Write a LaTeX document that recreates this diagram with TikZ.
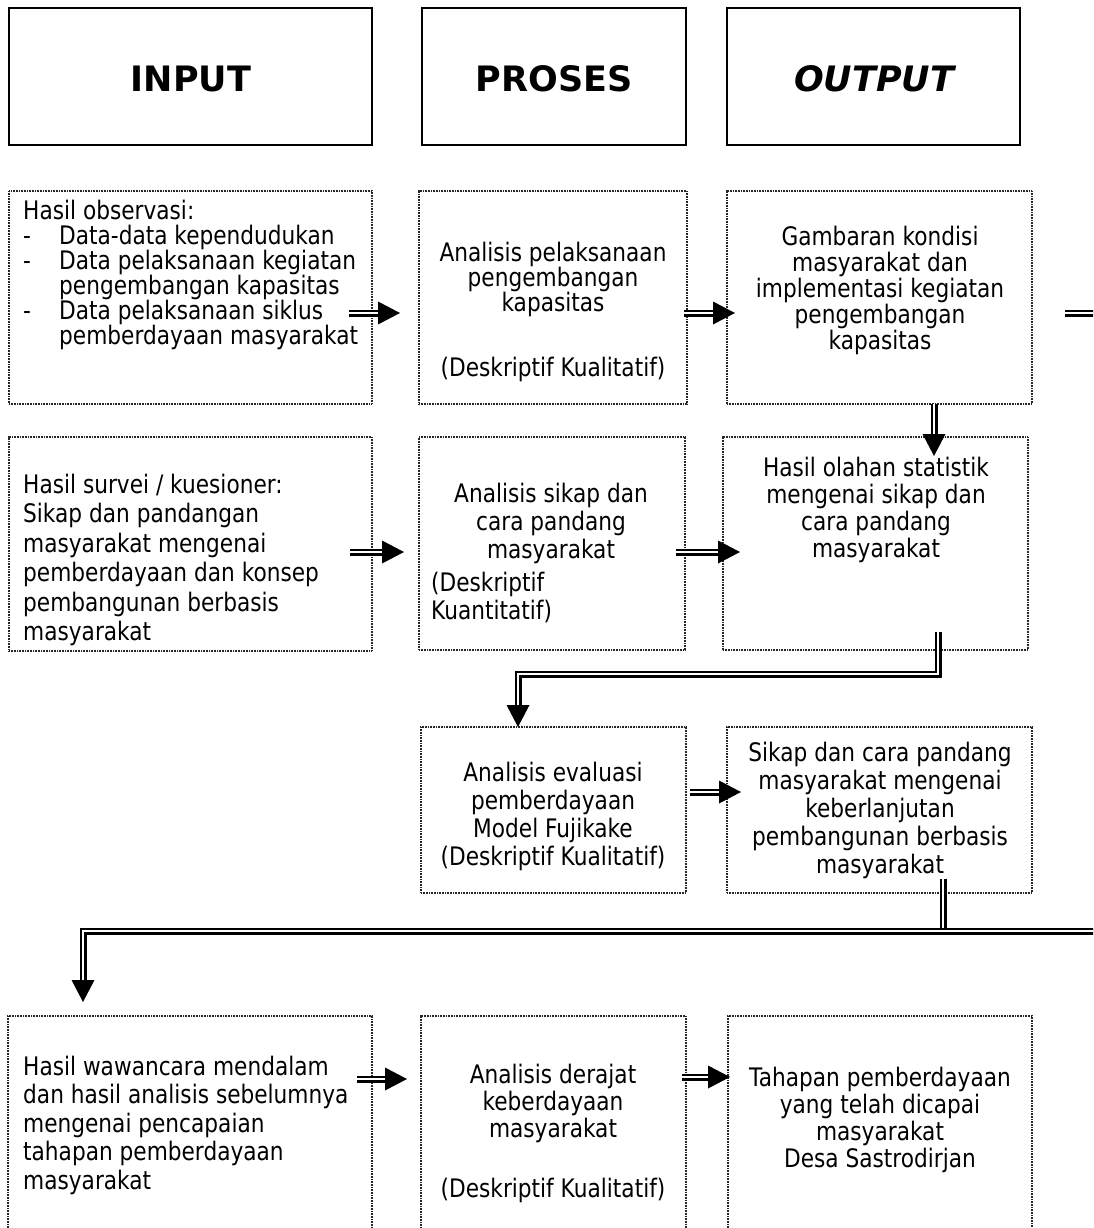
\documentclass[tikz,border=0pt]{standalone}
\usepackage{fontspec}
\setmainfont{DejaVu Sans}[FakeStretch=0.85]
\newfontfamily\hdrfont{DejaVu Sans}
\usetikzlibrary{calc}

% filled triangular head: base point #1, tip #2
\newcommand\dhead[2]{%
  \fill[black] (#2) -- ($(#1)!11.5pt!90:(#2)$) -- ($(#1)!11.5pt!-90:(#2)$) -- cycle;}
% straight double-shaft arrow from #1 to tip #2
\newcommand\dblarrow[2]{%
  \coordinate (#2-base) at ($(#2)!22pt!(#1)$);
  \draw[shaft] (#1) -- ($(#2)!21pt!(#1)$);
  \dhead{#2-base}{#2}}

\begin{document}
\begin{tikzpicture}[x=1pt,y=-1pt,
  hdr/.style={draw=black, line width=1.1pt, inner sep=0pt, outer sep=0pt, anchor=north west},
  dbox/.style={draw=black!85, line width=1.4pt, dash pattern=on 1pt off 0.6pt,
               inner sep=0pt, outer sep=0pt, anchor=north west},
  body/.style={inner sep=0pt, font=\fontsize{25.5}{#1}\selectfont},
  ctr/.style={body=#1, align=center},
  lft/.style={body=#1, align=left, anchor=west},
  htxt/.style={inner sep=0pt, font=\hdrfont\fontsize{35}{40}\selectfont\bfseries},
  shaft/.style={draw=black, line width=2.1pt, double=white, double distance=2.8pt},
]
\useasboundingbox (0,0) rectangle (1093,1228);
\clip (0,0) rectangle (1093,1228);

% column headers
\node[hdr, minimum width=363pt, minimum height=137pt] (hin)  at (9,8)   {};
\node[hdr, minimum width=264pt, minimum height=137pt] (hpr)  at (422,8) {};
\node[hdr, minimum width=293pt, minimum height=137pt] (hout) at (727,8) {};
\node[htxt] (hint)  at (191,79) {INPUT};
\node[htxt] (hprt)  at (554,79) {PROSES};
\node[htxt] (houtt) at (874,79) {\itshape OUTPUT};

% row 1
\node[dbox, minimum width=363pt, minimum height=213pt] (i1) at (9,191)   {};
\node[dbox, minimum width=268pt, minimum height=213pt] (p1) at (419,191) {};
\node[dbox, minimum width=305pt, minimum height=213pt] (o1) at (727,191) {};
\node[lft=25] (i1t) at (23,275) {Hasil observasi:\\
  \makebox[36pt][l]{-}Data-data kependudukan\\
  \makebox[36pt][l]{-}Data pelaksanaan kegiatan\\
  \hspace*{36pt}pengembangan kapasitas\\
  \makebox[36pt][l]{-}Data pelaksanaan siklus\\
  \hspace*{36pt}pemberdayaan masyarakat};
\node[ctr=25] (p1t) at (553,279) {Analisis pelaksanaan\\pengembangan\\kapasitas};
\node[ctr=25] (p1d) at (553,369) {(Deskriptif Kualitatif)};
\node[ctr=26] (o1t) at (880,290) {Gambaran kondisi\\masyarakat dan\\implementasi kegiatan\\pengembangan\\kapasitas};

% row 2
\node[dbox, minimum width=363pt, minimum height=214pt] (i2) at (9,437)   {};
\node[dbox, minimum width=266pt, minimum height=213pt] (p2) at (419,437) {};
\node[dbox, minimum width=305pt, minimum height=213pt] (o2) at (723,437) {};
\node[lft=29.5] (i2t) at (23,560) {Hasil survei / kuesioner:\\Sikap dan pandangan\\masyarakat mengenai\\pemberdayaan dan konsep\\pembangunan berbasis\\masyarakat};
\node[ctr=28] (p2a) at (551,523) {Analisis sikap dan\\cara pandang\\masyarakat};
\node[lft=28] (p2b) at (431,597) {(Deskriptif\\Kuantitatif)};
\node[ctr=27] (o2t) at (876,510) {Hasil olahan statistik\\mengenai sikap dan\\cara pandang\\masyarakat};

% row 3
\node[dbox, minimum width=265pt, minimum height=166pt] (p3) at (421,727) {};
\node[dbox, minimum width=305pt, minimum height=166pt] (o3) at (727,727) {};
\node[ctr=28] (p3t) at (553,816) {Analisis evaluasi\\pemberdayaan\\Model Fujikake\\(Deskriptif Kualitatif)};
\node[ctr=28] (o3t) at (880,810) {Sikap dan cara pandang\\masyarakat mengenai\\keberlanjutan\\pembangunan berbasis\\masyarakat};

% row 4
\node[dbox, minimum width=364pt, minimum height=240pt] (i4) at (8,1016)   {};
\node[dbox, minimum width=265pt, minimum height=240pt] (p4) at (421,1016) {};
\node[dbox, minimum width=304pt, minimum height=240pt] (o4) at (728,1016) {};
\node[lft=28.5] (i4t) at (23,1125) {Hasil wawancara mendalam\\dan hasil analisis sebelumnya\\mengenai pencapaian\\tahapan pemberdayaan\\masyarakat};
\node[ctr=27] (p4a) at (553,1103) {Analisis derajat\\keberdayaan\\masyarakat};
\node[ctr=27] (p4b) at (553,1190) {(Deskriptif Kualitatif)};
\node[ctr=27] (o4t) at (880,1120) {Tahapan pemberdayaan\\yang telah dicapai\\masyarakat\\Desa Sastrodirjan};

% connectors, row 1
\coordinate (a1s) at ($(i1.east)+(-23,15.5)$);
\coordinate (a1t) at ($(p1.west)+(-19,15.5)$);
\dblarrow{a1s}{a1t}
\coordinate (a2s) at ($(p1.east)+(-3,15.5)$);
\coordinate (a2t) at ($(o1.west)+(8,15.5)$);
\dblarrow{a2s}{a2t}
\coordinate (a3s) at ($(o1.east)+(33,15.5)$);
\coordinate (a3e) at ($(o1.east)+(70,15.5)$);
\draw[shaft] (a3s) -- (a3e);
\coordinate (a4s) at ($(o1.south)+(54.5,0)$);
\coordinate (a4t) at ($(o2.north)+(58.5,19)$);
\dblarrow{a4s}{a4t}

% connectors, row 2
\coordinate (a5s) at ($(i2.east)+(-22,8)$);
\coordinate (a5t) at ($(p2.west)+(-15,8.5)$);
\dblarrow{a5s}{a5t}
\coordinate (a6s) at ($(p2.east)+(-9,8.5)$);
\coordinate (a6t) at ($(o2.west)+(17,8.5)$);
\dblarrow{a6s}{a6t}
\coordinate (a7s) at ($(o2.south)+(62.5,-18)$);
\coordinate (a7t) at ($(p3.north)+(-35.5,0)$);
\coordinate (a7b) at ($(a7t)+(0,-22)$);
\draw[shaft] (a7s) -- ++(0,42) -| ($(a7t)+(0,-21)$);
\dhead{a7b}{a7t}

% connectors, row 3
\coordinate (a8s) at ($(p3.east)+(4,-18)$);
\coordinate (a8t) at ($(o3.west)+(14,-18)$);
\dblarrow{a8s}{a8t}
\coordinate (a9s) at ($(o3.south)+(63.5,-14)$);
\coordinate (a9j) at ($(o3.south)+(63.5,38)$);
\draw[shaft] (a9s) -- (a9j);
\coordinate (a9r) at ($(o3.south)+(230,38)$);
\coordinate (a9t) at ($(i4.north)+(-107,-14)$);
\coordinate (a9b) at ($(a9t)+(0,-22)$);
\draw[shaft] (a9r) -| ($(a9t)+(0,-21)$);
\dhead{a9b}{a9t}

% connectors, row 4
\coordinate (a10s) at ($(i4.north east)+(-15,63)$);
\coordinate (a10t) at ($(p4.north west)+(-14,63)$);
\dblarrow{a10s}{a10t}
\coordinate (a11s) at ($(p4.north east)+(-4,61)$);
\coordinate (a11t) at ($(o4.north west)+(2,61)$);
\dblarrow{a11s}{a11t}
\end{tikzpicture}
\end{document}
